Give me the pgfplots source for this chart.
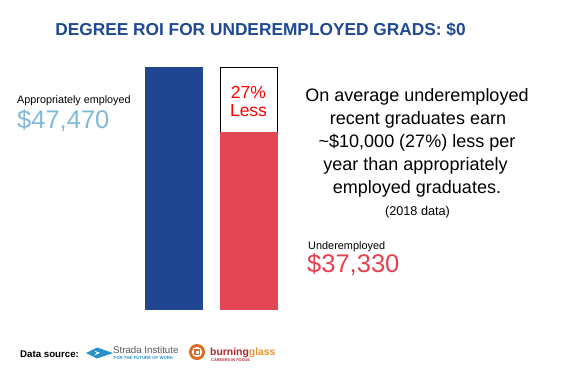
\documentclass[border=0pt]{standalone}
\usepackage{pgfplots}
\pgfplotsset{compat=1.18}
\usepackage{fontspec}
\setmainfont{Liberation Sans}
\definecolor{titleblue}{RGB}{31,73,148}
\definecolor{barblue}{RGB}{32,69,145}
\definecolor{barred}{RGB}{227,71,86}
\definecolor{lightblue}{RGB}{127,186,220}
\definecolor{pred}{RGB}{255,0,0}
\definecolor{numred}{RGB}{232,64,80}
\definecolor{stradagray}{RGB}{85,85,95}
\definecolor{stradablue}{RGB}{40,145,200}
\definecolor{bgorange}{RGB}{222,105,35}
\definecolor{bgred}{RGB}{175,40,45}
\definecolor{bgyellow}{RGB}{235,150,40}
\newcommand{\fs}[1]{\fontsize{#1}{#1}\selectfont}
\begin{document}
\begin{tikzpicture}[x=1pt,y=-1pt]
\path[use as bounding box] (0,0) rectangle (570,380);
\begin{axis}[
  at={(98.5pt,-309pt)}, anchor=south west,
  scale only axis, width=225pt, height=244pt,
  xmin=-1, xmax=2, ymin=9718, ymax=47782,
  hide axis,
  ybar, bar width=57pt, bar shift=0pt,
]
\addplot[fill=barblue, draw=barblue, line width=0.8pt] coordinates {(0,47470)};
\addplot[fill=white, draw=black, line width=0.8pt] coordinates {(1,47470)};
\addplot[fill=barred, draw=barred, line width=0.8pt] coordinates {(1,37330)};
\end{axis}
% title
\node[anchor=base, text=titleblue, font=\bfseries\fs{17.3}, inner sep=0] at (260.5,35) {DEGREE ROI FOR UNDEREMPLOYED GRADS: \$0};
% left labels
\node[anchor=base west, inner sep=0, font=\fs{10.8}] at (17,103) {Appropriately employed};
\node[anchor=base west, inner sep=0, font=\fs{25.5}, text=lightblue] at (17,128) {\$47,470};
% box text
\node[anchor=base, inner sep=0, font=\fs{17.5}, text=pred] at (248.5,98) {27\%};
\node[anchor=base, inner sep=0, font=\fs{17.5}, text=pred] at (248.5,116) {Less};
% paragraph
\node[anchor=base, inner sep=0, font=\fs{18}] at (417,101) {On average underemployed};
\node[anchor=base, inner sep=0, font=\fs{18}] at (418,124) {recent graduates earn};
\node[anchor=base, inner sep=0, font=\fs{18}] at (417,147) {\textasciitilde\$10,000 (27\%) less per};
\node[anchor=base, inner sep=0, font=\fs{18}] at (415.5,170) {year than appropriately};
\node[anchor=base, inner sep=0, font=\fs{18}] at (417,193) {employed graduates.};
\node[anchor=base, inner sep=0, font=\fs{12.7}] at (417.5,215) {(2018 data)};
% right labels
\node[anchor=base west, inner sep=0, font=\fs{10.9}] at (308,249) {Underemployed};
\node[anchor=base west, inner sep=0, font=\fs{25.5}, text=numred] at (307,272) {\$37,330};
% footer
\node[anchor=base west, inner sep=0, font=\bfseries\fs{9.7}] at (20,357) {Data source:};
% strada logo
\fill[stradablue] (86,353) -- (97,347.5) -- (113,353) -- (97,358.5) -- cycle;
\fill[white] (94,350.5) -- (100,353) -- (94,355.5) -- (97,353) -- cycle;
\node[anchor=base west, inner sep=0, font=\fs{9.7}, text=stradagray] at (113,353) {Strada Institute};
\node[anchor=base west, inner sep=0, font=\bfseries\fs{4.3}, text=stradablue] at (113.5,359.5) {FOR THE FUTURE OF WORK};
% burning glass logo
\fill[bgorange] (197,352) circle (8);
\fill[white] (197,352) circle (5.2);
\fill[bgorange] (193.8,348.8) rectangle (200.2,355.2);
\fill[white] (195.5,350.5) rectangle (198.5,353.5);
\node[anchor=base west, inner sep=0, font=\bfseries\fs{10.4}] at (210,355) {\textcolor{bgred}{burning}\textcolor{bgyellow}{glass}};
\node[anchor=base west, inner sep=0, font=\bfseries\fs{3.9}, text=bgred] at (211,361) {CAREERS IN FOCUS};
\end{tikzpicture}
\end{document}
